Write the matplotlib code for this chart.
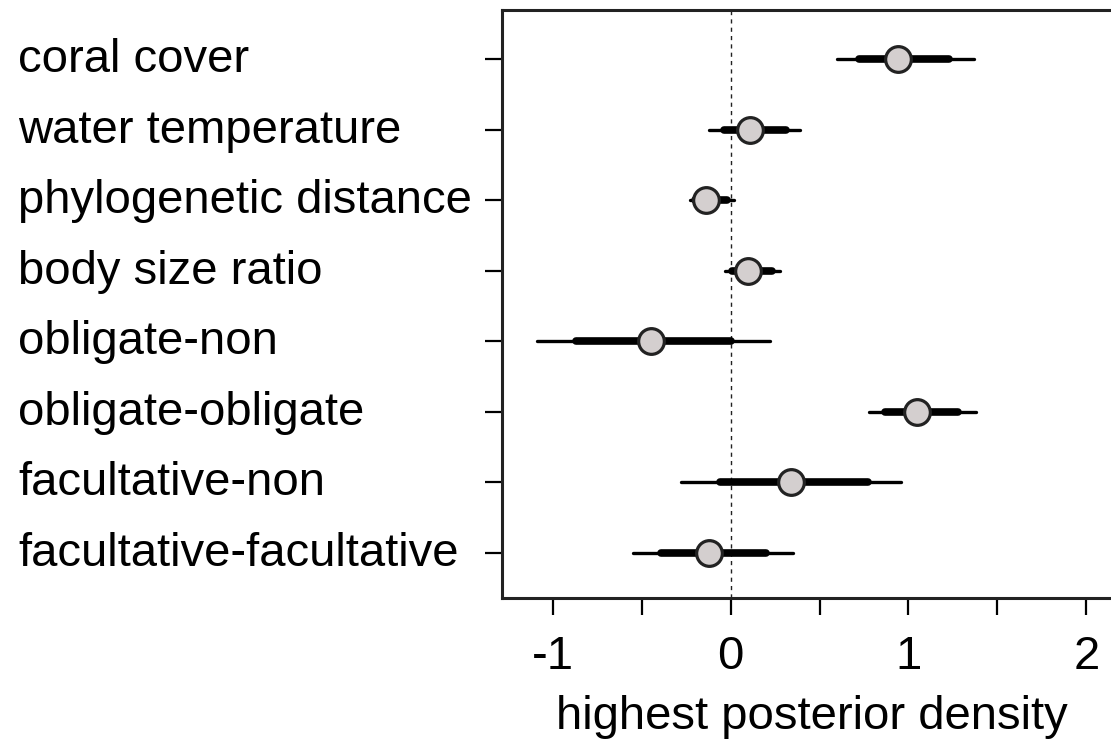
import matplotlib
matplotlib.use("Agg")
import matplotlib.pyplot as plt
from matplotlib.transforms import blended_transform_factory, offset_copy

plt.rcParams['font.family'] = ['Liberation Sans', 'DejaVu Sans']

# posterior summaries
labels = ['coral cover', 'water temperature', 'phylogenetic distance',
          'body size ratio', 'obligate-non', 'obligate-obligate',
          'facultative-non', 'facultative-facultative']
median = [0.94, 0.11, -0.14, 0.10, -0.45, 1.05, 0.34, -0.12]
hpd95_lo = [0.60, -0.12, -0.23, -0.03, -1.09, 0.78, -0.28, -0.55]
hpd95_hi = [1.37, 0.39, 0.02, 0.28, 0.22, 1.38, 0.96, 0.35]
hpd50_lo = [0.72, -0.04, -0.20, 0.01, -0.87, 0.87, -0.06, -0.39]
hpd50_hi = [1.23, 0.31, -0.02, 0.23, 0.00, 1.28, 0.77, 0.20]

xticks = [-1, -0.5, 0, 0.5, 1, 1.5, 2]
xticklabels = ['-1', '', '0', '', '1', '', '2']

fig = plt.figure(figsize=(11.11, 7.47), dpi=100)
ax = fig.add_axes([0.4518, 0.1995, 0.558, 0.787])

rows = list(range(1, len(labels) + 1))

# zero reference line
ax.axvline(0, color='#222222', lw=1, dashes=(3, 3), zorder=1)

# 95% and 50% intervals, then the point
ax.hlines(rows, hpd95_lo, hpd95_hi, color='black', lw=2.4, capstyle='round', zorder=2)
ax.hlines(rows, hpd50_lo, hpd50_hi, color='black', lw=5.5, capstyle='round', zorder=3)
ax.plot(median, rows, 'o', ms=18.5, mfc='#d4cfcf', mec='#222222', mew=2.3,
        ls='none', zorder=4)

ax.set_xlim(-1.286, 2.2)
ax.set_ylim(8.64, 0.30)

ax.set_xticks(xticks)
ax.set_xticklabels(xticklabels, fontsize=34)
ax.set_yticks(rows)
ax.set_yticklabels([])
ax.tick_params(axis='both', direction='out', length=12.5, width=1.6, color='black')
ax.tick_params(axis='x', pad=14)

for side in ['left', 'top', 'bottom']:
    ax.spines[side].set_linewidth(2.2)
    ax.spines[side].set_color('#222222')
ax.spines['right'].set_visible(False)

# row labels, left aligned at the figure edge
trans = blended_transform_factory(fig.transFigure, ax.transData)
trans = offset_copy(trans, fig=fig, y=-9.4, units='points')
for r, lab in zip(rows, labels):
    ax.text(18 / 1111, r, lab, transform=trans, fontsize=34,
            ha='left', va='baseline')

ax.set_xlabel('highest posterior density', fontsize=34, labelpad=12)

fig.savefig('out.png', dpi=100)
